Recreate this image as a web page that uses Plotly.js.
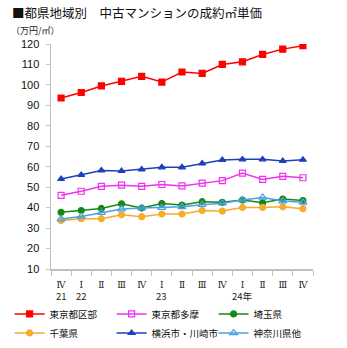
<!DOCTYPE html>
<html><head><meta charset="utf-8">
<script src="https://cdn.plot.ly/plotly-3.0.1.min.js"></script>
<style>html,body{margin:0;padding:0;background:#fff}#chart{width:347px;height:348px}</style>
</head><body><div id="chart"></div>
<script>
const quarters = ['Ⅳ','Ⅰ','Ⅱ','Ⅲ','Ⅳ','Ⅰ','Ⅱ','Ⅲ','Ⅳ','Ⅰ','Ⅱ','Ⅲ','Ⅳ'];
const yearLabels = ['21','22','','','','23','','','','24年','','',''];
const tokyoKubu = [93.6, 96.3, 99.5, 101.7, 104.2, 101.4, 106.3, 105.6, 110.0, 111.3, 114.9, 117.5, 119.2];
const tokyoTama = [46.0, 48.0, 50.4, 51.0, 50.4, 51.3, 50.6, 52.0, 53.2, 56.9, 53.8, 55.3, 54.6];
const saitama   = [37.7, 38.6, 39.6, 41.9, 39.8, 42.0, 41.3, 42.9, 42.6, 43.7, 42.4, 44.2, 43.5];
const chiba     = [33.7, 34.6, 34.6, 36.5, 35.6, 36.9, 36.9, 38.6, 38.3, 40.1, 40.1, 40.4, 39.5];
const yokohama  = [54.0, 56.0, 58.2, 57.9, 58.7, 59.7, 59.7, 61.6, 63.3, 63.6, 63.6, 62.8, 63.4];
const kanagawa  = [34.4, 35.7, 37.5, 39.3, 39.8, 40.0, 40.4, 41.4, 42.2, 43.7, 45.0, 43.2, 42.6];
const seriesNames = ['東京都区部','東京都多摩','埼玉県','千葉県','横浜市・川崎市','神奈川県他'];

const idx = quarters.map((q,i)=>i);
function tr(name, y, color, symbol, size){
  return {x: idx, y: y, name: name, type:'scatter', mode:'lines+markers',
    line:{color: color, width:1.5},
    marker:{symbol: symbol, size: size, color: color, line:{color: color, width: 1.2}}};
}
const data = [
  tr(seriesNames[0], tokyoKubu, '#ff0000', 'square', 6),
  tr(seriesNames[1], tokyoTama, '#ee33ee', 'square-open', 6),
  tr(seriesNames[2], saitama, '#138a13', 'circle', 6),
  tr(seriesNames[3], chiba, '#f5ad2a', 'circle', 6),
  tr(seriesNames[4], yokohama, '#1d3fc0', 'triangle-up', 6),
  tr(seriesNames[5], kanagawa, '#4aa0e6', 'triangle-up-open', 7)
];

const annotations = [{text:'（万円/㎡）', xref:'paper', yref:'paper', x:-0.16, y:1.062, xanchor:'left', yanchor:'middle',
  showarrow:false, font:{family:'Noto Sans CJK JP', size:9, color:'#222'}}];
yearLabels.forEach((t,i)=>{ if(t) annotations.push({text:t, xref:'x', yref:'paper', x:i, y:-0.08, yanchor:'top',
  showarrow:false, font:{family:'Noto Sans CJK JP, sans-serif', size:9.5, color:'#222'}}); });

const layout = {
  width:347, height:348,
  margin:{l:51, r:34, t:44, b:79, autoexpand:false},
  paper_bgcolor:'#fff', plot_bgcolor:'#fff',
  title:{text:'■都県地域別　中古マンションの成約㎡単価', xref:'container', x:12/347, xanchor:'left',
    yref:'container', y:1-14/348, yanchor:'middle', font:{family:'Noto Sans CJK JP', size:12.5, color:'#111'}},
  xaxis:{type:'linear', range:[-0.5,12.5], tickmode:'array', tickvals:idx, ticktext:quarters,
    showgrid:false, zeroline:false, showline:true, linecolor:'#bfbfbf', linewidth:1.5, automargin:false,
    ticks:'', tickfont:{family:'DejaVu Serif, Liberation Serif, serif', size:9, color:'#222'}, ticklabelstandoff:7,
    minor:{tickmode:'array', tickvals:[-0.5,0.5,1.5,2.5,3.5,4.5,5.5,6.5,7.5,8.5,9.5,10.5,11.5,12.5], ticks:'outside', ticklen:5, tickcolor:'#bfbfbf', tickwidth:1, showgrid:false},
    fixedrange:true},
  yaxis:{range:[10,120], dtick:10, showgrid:false, zeroline:false, showline:true, linecolor:'#bfbfbf', linewidth:1.5, automargin:false,
    ticks:'outside', ticklen:4, tickcolor:'#bfbfbf', tickfont:{family:'Liberation Sans, sans-serif', size:11, color:'#111'}, ticklabelstandoff:4},
  showlegend:true,
  legend:{orientation:'h', x:-0.158, y:-0.135, xanchor:'left', yanchor:'top', entrywidth:57, entrywidthmode:'pixels',
    font:{family:'Noto Sans CJK JP', size:9.5, color:'#111'}, itemwidth:30, tracegroupgap:0, traceorder:'normal', bgcolor:'rgba(0,0,0,0)'},
  annotations: annotations
};
Plotly.newPlot('chart', data, layout, {displayModeBar:false, staticPlot:true});
</script></body></html>
